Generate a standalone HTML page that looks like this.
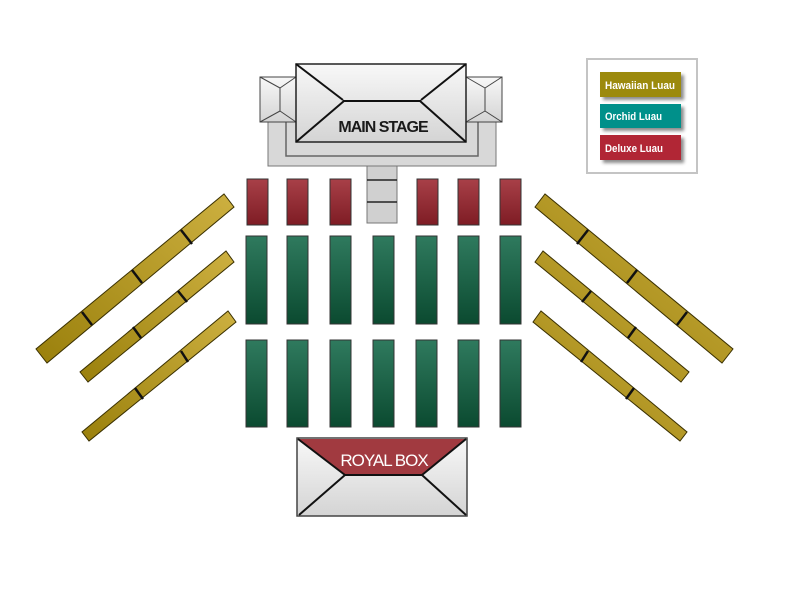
<!DOCTYPE html>
<html><head><meta charset="utf-8"><style>
html,body{margin:0;padding:0;background:#fff;width:800px;height:600px;overflow:hidden}
svg{display:block}
</style></head><body>
<svg width="800" height="600" viewBox="0 0 800 600" xmlns="http://www.w3.org/2000/svg">
<defs>
<linearGradient id="gold" x1="1" y1="0" x2="0" y2="1"><stop offset="0" stop-color="#cdb040"/><stop offset="1" stop-color="#9a800c"/></linearGradient>
<linearGradient id="goldR" x1="0" y1="0" x2="1" y2="1"><stop offset="0" stop-color="#cdb040"/><stop offset="1" stop-color="#9a800c"/></linearGradient>
<linearGradient id="grn" x1="0" y1="0" x2="0" y2="1"><stop offset="0" stop-color="#2f7a5e"/><stop offset="1" stop-color="#0b4a30"/></linearGradient>
<linearGradient id="red" x1="0" y1="0" x2="0" y2="1"><stop offset="0" stop-color="#a84048"/><stop offset="1" stop-color="#7e1c24"/></linearGradient>
<linearGradient id="gry" x1="0" y1="0" x2="0" y2="1"><stop offset="0" stop-color="#f8f8f8"/><stop offset="1" stop-color="#d4d4d4"/></linearGradient>
<filter id="sh" x="-10%" y="-10%" width="130%" height="140%"><feDropShadow dx="3" dy="3" stdDeviation="1.5" flood-color="#000" flood-opacity="0.45"/></filter>
</defs>

<g stroke="#3a3000" stroke-width="1">
<polygon points="36,349 47,363 234,207 224,194" fill="url(#gold)"/>
<polygon points="80,372 88,382 234,262 226,251" fill="url(#gold)"/>
<polygon points="82,432 89,441 236,322 228,311" fill="url(#gold)"/>
<g stroke="#111" stroke-width="2.5">
<line x1="82" y1="312" x2="92" y2="325"/><line x1="132" y1="270" x2="142" y2="283"/><line x1="181" y1="230" x2="192" y2="244"/>
<line x1="133" y1="327" x2="141" y2="338"/><line x1="178" y1="291" x2="187" y2="302"/>
<line x1="135" y1="388" x2="143" y2="399"/><line x1="181" y1="351" x2="188" y2="362"/>
</g>
</g>
<g transform="translate(769,0) scale(-1,1)" stroke="#3a3000" stroke-width="1">
<polygon points="36,349 47,363 234,207 224,194" fill="url(#goldR)"/>
<polygon points="80,372 88,382 234,262 226,251" fill="url(#goldR)"/>
<polygon points="82,432 89,441 236,322 228,311" fill="url(#goldR)"/>
<g stroke="#111" stroke-width="2.5">
<line x1="82" y1="312" x2="92" y2="325"/><line x1="132" y1="270" x2="142" y2="283"/><line x1="181" y1="230" x2="192" y2="244"/>
<line x1="133" y1="327" x2="141" y2="338"/><line x1="178" y1="291" x2="187" y2="302"/>
<line x1="135" y1="388" x2="143" y2="399"/><line x1="181" y1="351" x2="188" y2="362"/>
</g>
</g>

<rect x="268" y="118" width="228" height="48" fill="#d8d8d8" stroke="#777" stroke-width="1"/>
<path d="M286,118 V156 H478 V118" fill="none" stroke="#666" stroke-width="1.5"/>
<g stroke="#444" stroke-width="1" fill="url(#gry)">
<rect x="260" y="77" width="36" height="45"/>
<line x1="280" y1="88" x2="280" y2="111"/><line x1="260" y1="77" x2="280" y2="88"/><line x1="260" y1="122" x2="280" y2="111"/><line x1="280" y1="88" x2="296" y2="77"/><line x1="280" y1="111" x2="296" y2="122"/>
<rect x="466" y="77" width="36" height="45"/>
<line x1="485" y1="88" x2="485" y2="111"/><line x1="502" y1="77" x2="485" y2="88"/><line x1="502" y1="122" x2="485" y2="111"/><line x1="485" y1="88" x2="466" y2="77"/><line x1="485" y1="111" x2="466" y2="122"/>
</g>
<rect x="296" y="64" width="170" height="78" fill="url(#gry)" stroke="#222" stroke-width="1.5"/>
<g stroke="#111" stroke-width="2">
<line x1="296" y1="64" x2="343" y2="100"/><line x1="466" y1="64" x2="421" y2="100"/>
<line x1="343" y1="101" x2="421" y2="101"/>
<line x1="344" y1="101" x2="296" y2="142"/><line x1="420" y1="101" x2="466" y2="142"/>
</g>
<text x="383" y="132" text-anchor="middle" font-family="Liberation Sans, sans-serif" font-weight="bold" font-size="16" letter-spacing="-1" fill="#1a1a1a">MAIN STAGE</text>
<rect x="367" y="166" width="30" height="57" fill="#d0d0d0" stroke="#777"/>
<line x1="367" y1="180" x2="397" y2="180" stroke="#222" stroke-width="1.5"/>
<line x1="367" y1="202" x2="397" y2="202" stroke="#222" stroke-width="1.5"/>

<g stroke="#333" stroke-width="1">
<rect x="247" y="179" width="21" height="46" fill="url(#red)"/>
<rect x="287" y="179" width="21" height="46" fill="url(#red)"/>
<rect x="330" y="179" width="21" height="46" fill="url(#red)"/>
<rect x="417" y="179" width="21" height="46" fill="url(#red)"/>
<rect x="458" y="179" width="21" height="46" fill="url(#red)"/>
<rect x="500" y="179" width="21" height="46" fill="url(#red)"/>
<rect x="246" y="236" width="21" height="88" fill="url(#grn)"/>
<rect x="287" y="236" width="21" height="88" fill="url(#grn)"/>
<rect x="330" y="236" width="21" height="88" fill="url(#grn)"/>
<rect x="373" y="236" width="21" height="88" fill="url(#grn)"/>
<rect x="416" y="236" width="21" height="88" fill="url(#grn)"/>
<rect x="458" y="236" width="21" height="88" fill="url(#grn)"/>
<rect x="500" y="236" width="21" height="88" fill="url(#grn)"/>
<rect x="246" y="340" width="21" height="87" fill="url(#grn)"/>
<rect x="287" y="340" width="21" height="87" fill="url(#grn)"/>
<rect x="330" y="340" width="21" height="87" fill="url(#grn)"/>
<rect x="373" y="340" width="21" height="87" fill="url(#grn)"/>
<rect x="416" y="340" width="21" height="87" fill="url(#grn)"/>
<rect x="458" y="340" width="21" height="87" fill="url(#grn)"/>
<rect x="500" y="340" width="21" height="87" fill="url(#grn)"/>
</g>

<rect x="297" y="438" width="170" height="78" fill="url(#gry)" stroke="#444" stroke-width="1.5"/>
<polygon points="298,439 466,439 422,475 345,475" fill="#a13a40"/>
<g stroke="#111" stroke-width="2">
<line x1="298" y1="439" x2="345" y2="475"/><line x1="466" y1="439" x2="422" y2="475"/>
<line x1="345" y1="475" x2="422" y2="475"/>
<line x1="345" y1="475" x2="299" y2="515"/><line x1="422" y1="475" x2="466" y2="515"/>
</g>
<text x="384" y="466" text-anchor="middle" font-family="Liberation Sans, sans-serif" font-size="17" letter-spacing="-1" fill="#fff">ROYAL BOX</text>

<rect x="587" y="59" width="110" height="114" fill="#fff" stroke="#c4c4c4" stroke-width="2"/>
<g filter="url(#sh)">
<rect x="600" y="72" width="81" height="25" fill="#9c8a0c"/>
<rect x="600" y="104" width="81" height="24" fill="#00908a"/>
<rect x="600" y="135" width="81" height="25" fill="#b12536"/>
</g>
<g font-family="Liberation Sans, sans-serif" font-weight="bold" font-size="11" fill="#fff">
<text x="605" y="89" textLength="70" lengthAdjust="spacingAndGlyphs">Hawaiian Luau</text>
<text x="605" y="120" textLength="57" lengthAdjust="spacingAndGlyphs">Orchid Luau</text>
<text x="605" y="152" textLength="58" lengthAdjust="spacingAndGlyphs">Deluxe Luau</text>
</g>
</svg>
</body></html>
